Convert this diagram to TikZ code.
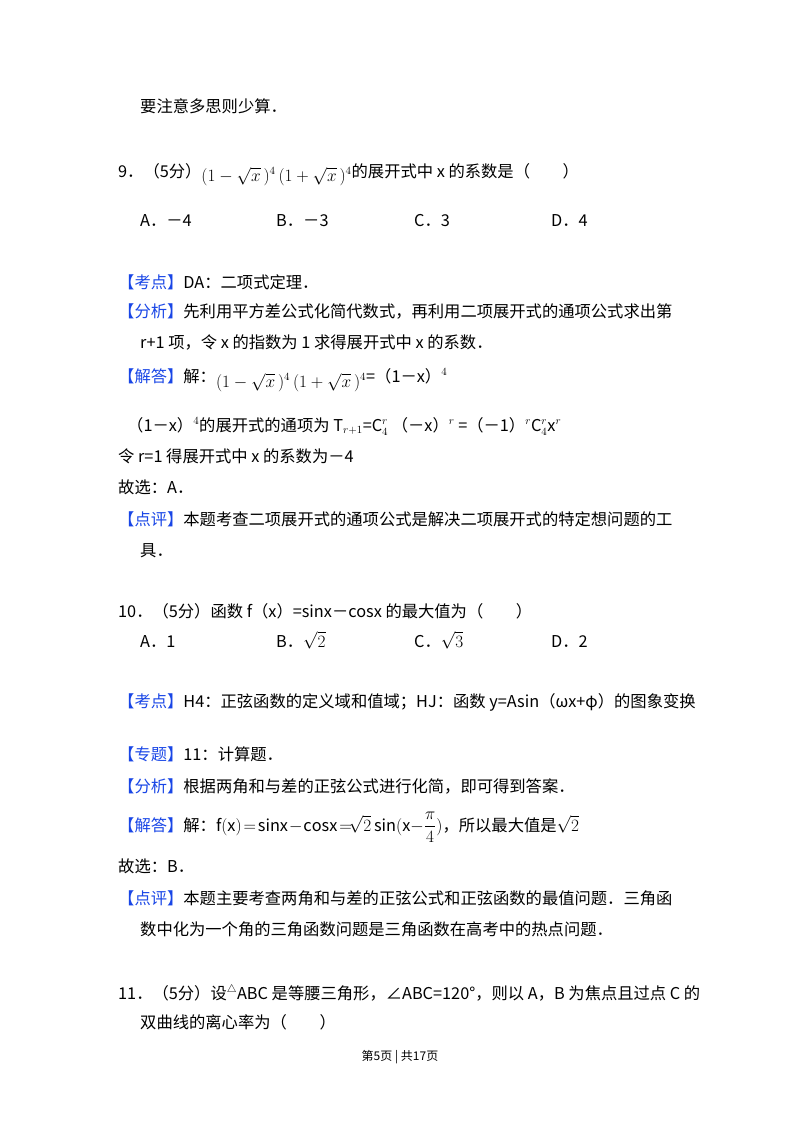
\documentclass[tikz,border=0pt]{standalone}
\usepackage{fontspec}
\usepackage{amsmath}
\setmainfont{Noto Sans CJK SC}
\newfontfamily\cjk{Noto Sans CJK SC}
\definecolor{kb}{RGB}{25,70,230}
\newcommand{\tg}[1]{{\color{kb}【#1】}}
\newcommand{\fa}{\ensuremath{(1-\sqrt{x}\,)^4\,(1+\sqrt{x}\,)^4}}
\begin{document}
\begin{tikzpicture}[x=1pt,y=-1pt,t/.style={anchor=base west,inner sep=0pt,font=\fontsize{16.3}{19}\cjk}]
\useasboundingbox (0,0) rectangle (800,1132);
\node[t] (l0) at (140,112) {要注意多思则少算．};
\node[t] (q9) at (118,177) {9．（5分）\raisebox{-4pt}{\fa}的展开式中 x 的系数是（\quad\quad）};
\node[t] (a9) at (140,226) {A．－4};
\node[t] (b9) at (276,226) {B．－3};
\node[t] (c9) at (414,226) {C．3};
\node[t] (d9) at (551,226) {D．4};
\node[t] (k9) at (118,288) {\tg{考点}DA：二项式定理．};
\node[t] (f9) at (118,317) {\tg{分析}先利用平方差公式化简代数式，再利用二项展开式的通项公式求出第};
\node[t] (f9b) at (140,348) {r+1 项，令 x 的指数为 1 求得展开式中 x 的系数．};
\node[t] (j9) at (118,382) {\tg{解答}解：\raisebox{-5pt}{\fa}=（1－x）$^{4}$};
\node[t] (j9b) at (127,431) {（1－x）$^{4}$的展开式的通项为 T$_{r+1}$=C$_4^r$ （－x）$^r$ =（－1）$^r$C$_4^r$x$^r$};
\node[t] (j9c) at (118,462) {令 r=1 得展开式中 x 的系数为－4};
\node[t] (g9) at (118,493) {故选：A．};
\node[t] (p9) at (118,525) {\tg{点评}本题考查二项展开式的通项公式是解决二项展开式的特定想问题的工};
\node[t] (p9b) at (140,556) {具．};
\node[t] (q10) at (118,617) {10．（5分）函数 f（x）=sinx－cosx 的最大值为（\quad\quad）};
\node[t] (a10) at (140,647) {A．1};
\node[t] (b10) at (276,647) {B．$\sqrt{2}$};
\node[t] (c10) at (414,647) {C．$\sqrt{3}$};
\node[t] (d10) at (551,647) {D．2};
\node[t] (k10) at (118,707) {\tg{考点}H4：正弦函数的定义域和值域；HJ：函数 y=Asin（ωx+φ）的图象变换};
\node[t] (z10) at (118,760) {\tg{专题}11：计算题．};
\node[t] (f10) at (118,792) {\tg{分析}根据两角和与差的正弦公式进行化简，即可得到答案．};
\node[t] (j10) at (118,831) {\tg{解答}解：$\mathrm{f(x)\!=\!sinx\!-\!cosx\!=\!}\sqrt{2}\,\mathrm{sin(x-}\dfrac{\pi}{4}\mathrm{)}$，所以最大值是$\sqrt{2}$};
\node[t] (g10) at (118,872) {故选：B．};
\node[t] (p10) at (118,904) {\tg{点评}本题主要考查两角和与差的正弦公式和正弦函数的最值问题．三角函};
\node[t] (p10b) at (140,935) {数中化为一个角的三角函数问题是三角函数在高考中的热点问题．};
\node[t] (q11) at (118,999) {11．（5分）设$^{\triangle}$ABC 是等腰三角形，∠ABC=120°，则以 A，B 为焦点且过点 C 的};
\node[t] (q11b) at (140,1028) {双曲线的离心率为（\quad\quad）};
\node[font=\fontsize{12}{14}\cjk,inner sep=0pt] (ft) at (400,1057) {第5页 | 共17页};
\end{tikzpicture}
\end{document}
